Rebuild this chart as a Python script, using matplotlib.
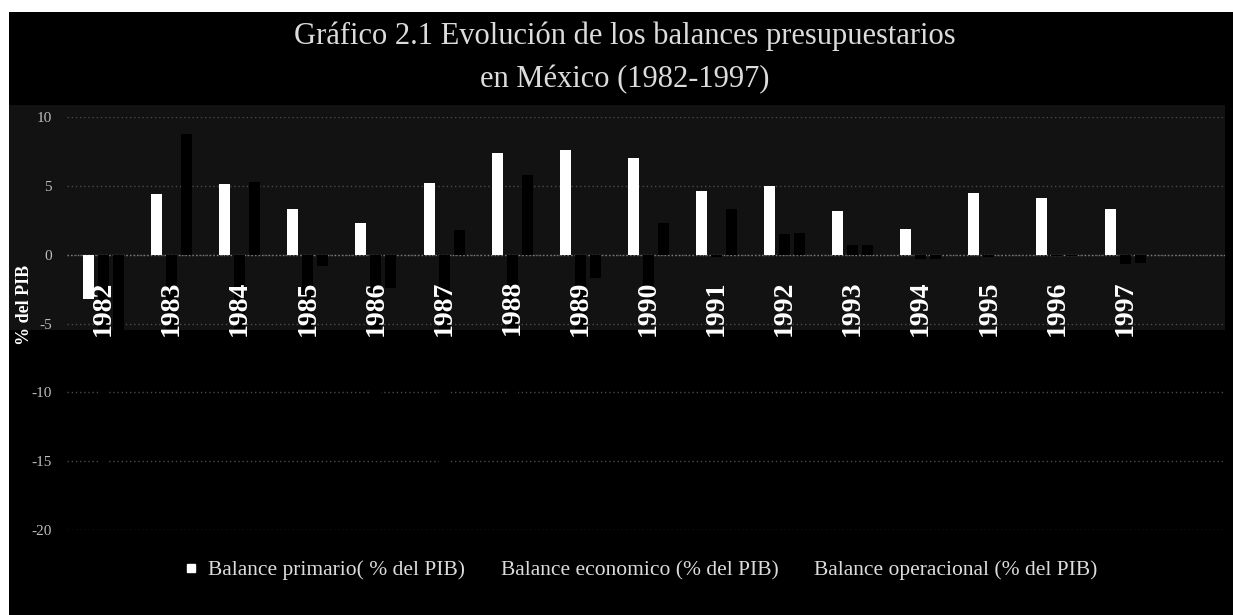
import matplotlib
matplotlib.use("Agg")
import matplotlib.pyplot as plt
from matplotlib.lines import Line2D
from matplotlib.patches import Rectangle
import numpy as np

# ---- data ----
years = ["1982", "1983", "1984", "1985", "1986", "1987", "1988", "1989",
         "1990", "1991", "1992", "1993", "1994", "1995", "1996", "1997"]
balance_primario = [-3.2, 4.4, 5.1, 3.3, 2.3, 5.2, 7.4, 7.6,
                    7.0, 4.6, 5.0, 3.2, 1.9, 4.5, 4.1, 3.3]
balance_economico = [-16.0, -8.6, -8.5, -9.6, -15.0, -15.5, -12.4, -5.5,
                     -3.3, -0.2, 1.5, 0.7, -0.3, -0.2, -0.1, -0.7]
balance_operacional = [-5.5, 8.8, 5.3, -0.8, -2.4, 1.8, 5.8, -1.7,
                       2.3, 3.3, 1.6, 0.7, -0.3, 0.0, -0.1, -0.6]
y_ticks = [10, 5, 0, -5, -10, -15, -20]

series_names = ["Balance primario( % del PIB)",
                "Balance economico (% del PIB)",
                "Balance operacional (% del PIB)"]
title = "Gráfico 2.1 Evolución de los balances presupuestarios\nen México (1982-1997)"

SERIF = ["Liberation Serif", "DejaVu Serif"]
TXT = "#dcdcdc"

W, H = 1233, 615
fig = plt.figure(figsize=(W / 100, H / 100), dpi=100, facecolor="black")

# white page margins on top and left
fig.patches.append(Rectangle((0, 1 - 12 / H), 1, 12 / H, transform=fig.transFigure,
                             facecolor="white", edgecolor="none", zorder=-5))
fig.patches.append(Rectangle((0, 0), 9 / W, 1, transform=fig.transFigure,
                             facecolor="white", edgecolor="none", zorder=-5))
# faint grey tone behind the upper part of the plot
fig.patches.append(Rectangle((9 / W, 1 - 330 / H), 1216 / W, 225 / H,
                             transform=fig.transFigure, facecolor="#121212",
                             edgecolor="none", zorder=-4))

ax = fig.add_axes([67 / W, 85 / H, 1158 / W, 413 / H])
ax.patch.set_alpha(0)

x = np.arange(len(years))
step = 15 / 68.1
bw = 11 / 68.1
ax.bar(x - step, balance_primario, width=bw, color="white", zorder=3)
ax.bar(x, balance_economico, width=bw, color="black", zorder=3)
ax.bar(x + step, balance_operacional, width=bw, color="black", zorder=3)

ax.set_xlim(-0.536, 16.468)
ax.set_ylim(-20, 10)
ax.set_yticks(y_ticks)
ax.set_yticklabels([str(v) for v in y_ticks], family=SERIF, fontsize=11, color="#bdbdbd")
ax.tick_params(axis="y", length=0, pad=11)
ax.set_xticks([])
for s in ax.spines.values():
    s.set_visible(False)
for v in y_ticks:
    ax.axhline(v, color="#4a4a4a", lw=1.0, ls=(0, (1, 2)), zorder=1)
ax.axhline(0, color="#7a7a7a", lw=1.0, ls=(0, (1, 1.5)), zorder=2)

# year labels hang below the zero line
for xi, yr in zip(x, years):
    ax.text(xi, -1.85, yr, rotation=90, ha="center", va="top", family=SERIF,
            fontsize=20, fontweight="bold", color="white", zorder=4)

fig.text(25 / W, 1 - 305 / H, "% del PIB", rotation=90, ha="center", va="center",
         family=SERIF, fontsize=13, fontweight="bold", color="white")

fig.text(625 / W, 1 - 58 / H, title, ha="center", va="center", family=SERIF,
         fontsize=22, color=TXT, linespacing=1.6)

handles = [Line2D([], [], marker="s", ls="none", color=c, markersize=6)
           for c in ["white", "black", "black"]]
leg = fig.legend(handles, series_names, loc="center", ncol=3,
                 bbox_to_anchor=(640 / W, 1 - 570 / H), frameon=False,
                 prop={"family": SERIF, "size": 15.5}, labelcolor=TXT,
                 handlelength=0.8, handletextpad=0.4, columnspacing=0.45)

fig.savefig("out.png", dpi=100, facecolor="black")
